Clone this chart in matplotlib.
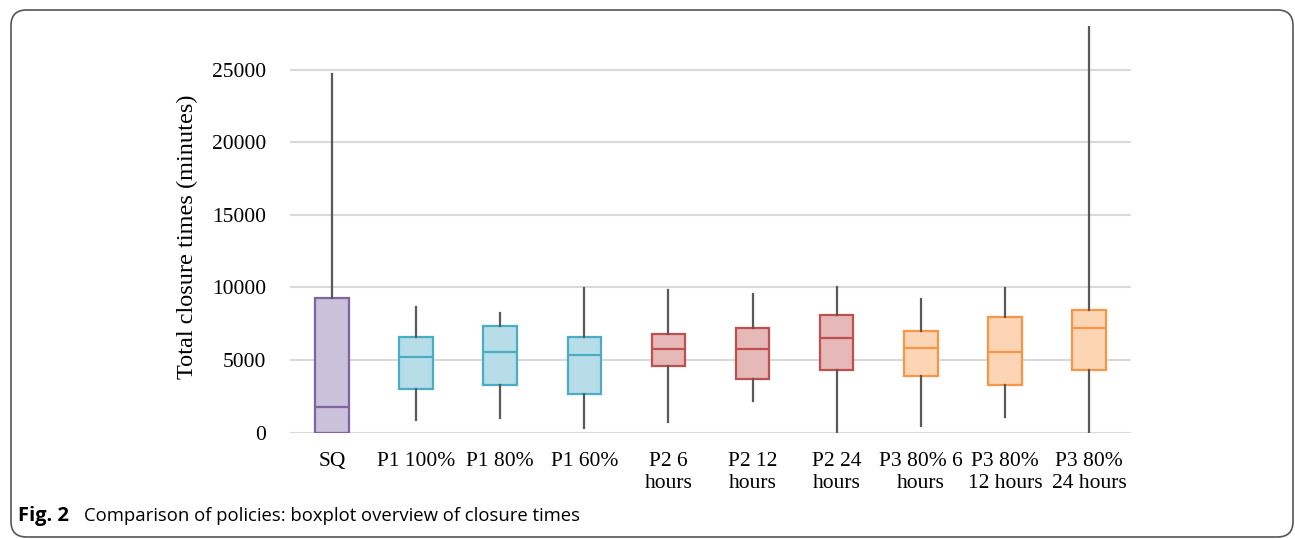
import matplotlib.pyplot as plt
from matplotlib.patches import FancyBboxPatch

# five-number summaries (minutes)
labels = ['SQ', 'P1 100%', 'P1 80%', 'P1 60%', 'P2 6\nhours', 'P2 12\nhours',
          'P2 24\nhours', 'P3 80% 6\nhours', 'P3 80%\n12 hours', 'P3 80%\n24 hours']
whislo = [0, 900, 990, 300, 720, 2180, 0, 440, 1100, 0]
q1 = [0, 3030, 3260, 2670, 4590, 3680, 4320, 3880, 3260, 4320]
med = [1750, 5230, 5580, 5370, 5790, 5760, 6540, 5810, 5540, 7190]
q3 = [9280, 6590, 7370, 6590, 6820, 7190, 8130, 7000, 7950, 8470]
whishi = [24720, 8640, 8220, 9990, 9810, 9570, 10050, 9210, 9970, 28000]
yticks = [0, 5000, 10000, 15000, 20000, 25000]

groups = ['SQ', 'P1', 'P1', 'P1', 'P2', 'P2', 'P2', 'P3', 'P3', 'P3']
face = {'SQ': '#CCC1DA', 'P1': '#B7DEE8', 'P2': '#E6B9B8', 'P3': '#FCD5B5'}
edge = {'SQ': '#8064A2', 'P1': '#4BACC6', 'P2': '#C0504D', 'P3': '#F79646'}

stats = []
for i in range(len(labels)):
    stats.append({'whislo': whislo[i], 'q1': q1[i], 'med': med[i],
                  'q3': q3[i], 'whishi': whishi[i], 'fliers': []})

fig = plt.figure(figsize=(12.95, 5.39), dpi=100)
ax = fig.add_axes([290 / 1295, 1 - 432.7 / 539, 841 / 1295, (432.7 - 26.1) / 539])

serif = ['Liberation Serif', 'DejaVu Serif']

for i, s in enumerate(stats):
    g = groups[i]
    ax.bxp([s], positions=[i], widths=0.4, showfliers=False, showcaps=False,
           patch_artist=True,
           boxprops=dict(facecolor=face[g], edgecolor=edge[g], linewidth=1.6),
           medianprops=dict(color=edge[g], linewidth=1.6),
           whiskerprops=dict(color='#595959', linewidth=1.6),
           zorder=3)

ax.set_xlim(-0.5, len(labels) - 0.5)
ax.set_ylim(0, 28000)
ax.set_yticks(yticks, [str(v) for v in yticks], fontsize=15.5, family=serif)
ax.set_xticks(range(len(labels)), labels, fontsize=15.5, family=serif, linespacing=1.2)
ax.tick_params(axis='y', length=0, pad=17, colors='#000000')
ax.tick_params(axis='x', length=0, pad=14)
ax.grid(axis='y', color='#D9D9D9', linewidth=1.5, zorder=0)
ax.set_axisbelow(True)
for sp in ax.spines.values():
    sp.set_visible(False)
ax.set_ylabel('Total closure times (minutes)', fontsize=17.5, family=serif)
ax.yaxis.set_label_coords(-(290 - 198) / 841, (432.7 - 237) / 406.6)

# figure frame and caption
frame = FancyBboxPatch((11 / 1295, 2 / 539), 1282 / 1295, 527 / 539,
                       boxstyle='round,pad=0,rounding_size=0.012',
                       transform=fig.transFigure, fill=False,
                       edgecolor='#555555', linewidth=1.2, mutation_aspect=1295 / 539)
fig.patches.append(frame)

fig.text(18 / 1295, 1 - 516 / 539, 'Fig. 2', fontsize=14.5, fontweight='bold',
         family='Open Sans', va='center')
fig.text(84 / 1295, 1 - 516 / 539, 'Comparison of policies: boxplot overview of closure times',
         fontsize=13.3, family='Open Sans', va='center')

fig.savefig('out.png', dpi=100)
